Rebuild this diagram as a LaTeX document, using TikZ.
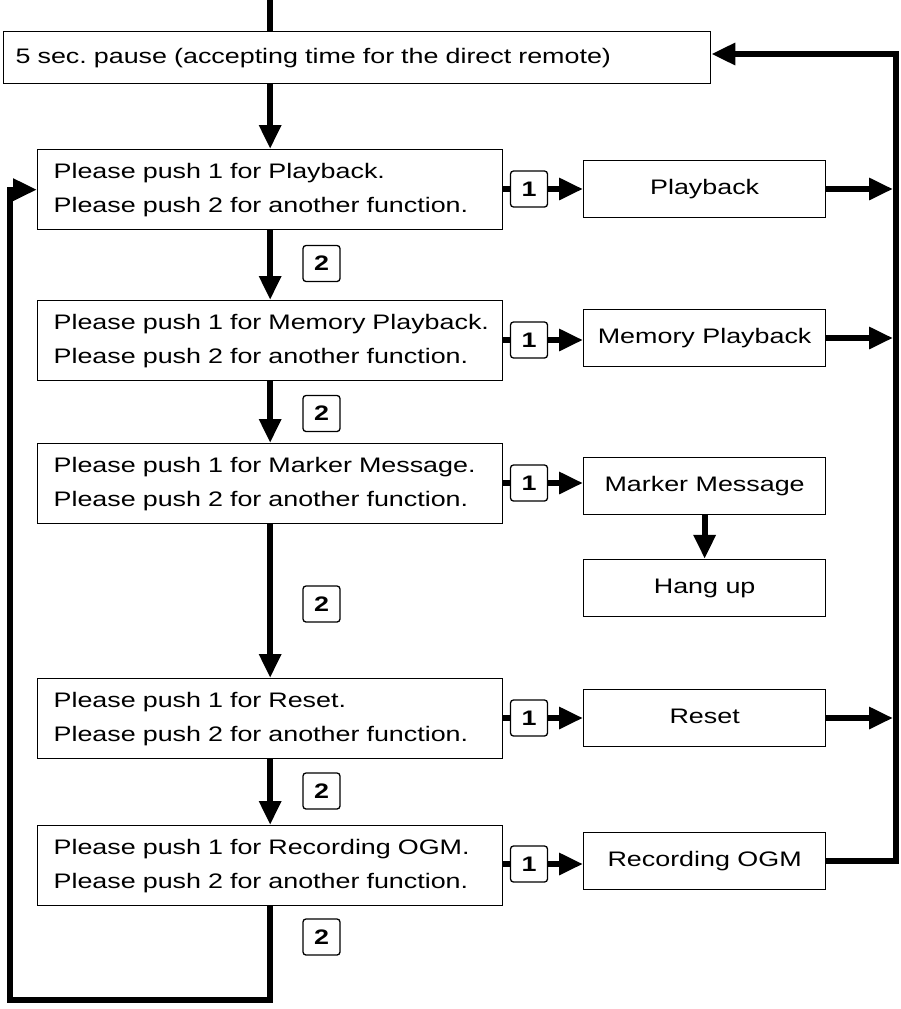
\documentclass[tikz,border=0pt]{standalone}
\usepackage{fontspec}
\setmainfont[FakeStretch=1.28]{Liberation Sans}
\usetikzlibrary{arrows.meta}
\frenchspacing
\begin{document}
\begin{tikzpicture}[x=1pt,y=-1pt,
  prompt/.style={draw, line width=1.3pt, minimum height=80pt, text width=433pt, inner xsep=16pt, inner ysep=0pt, align=left, anchor=north west, font=\fontsize{21}{34}\selectfont},
  result/.style={draw, line width=1.3pt, minimum width=242pt, minimum height=57pt, inner sep=0pt, text height=15pt, text depth=4pt, anchor=west, font=\fontsize{21}{25}\selectfont},
  keybox/.style={draw, line width=1.3pt, rounded corners=3pt, minimum width=37pt, minimum height=36pt, inner sep=0pt, font=\fontsize{21}{25}\selectfont\bfseries},
  flow/.style={line width=6pt},
  arr/.style={flow, -{Triangle[length=24pt,width=21pt]}}
]
\useasboundingbox (0,0) rectangle (900,1009);

% main boxes
\node[prompt, text width=683pt, inner xsep=12pt, minimum height=52pt] (pause) at (3,31) {\mbox{5 sec. pause (accepting time for the direct remote)}};
\node[prompt] (p1) at (37,149) {\mbox{Please push 1 for Playback.}\\\mbox{Please push 2 for another function.}};
\node[prompt] (p2) at (37,300) {\mbox{Please push 1 for Memory Playback.}\\\mbox{Please push 2 for another function.}};
\node[prompt] (p3) at (37,443) {\mbox{Please push 1 for Marker Message.}\\\mbox{Please push 2 for another function.}};
\node[prompt] (p4) at (37,678) {\mbox{Please push 1 for Reset.}\\\mbox{Please push 2 for another function.}};
\node[prompt] (p5) at (37,825) {\mbox{Please push 1 for Recording OGM.}\\\mbox{Please push 2 for another function.}};

% key 1 boxes
\node[keybox] (k1) at (529,189) {1};
\node[keybox] (k2) at (529,340) {1};
\node[keybox] (k3) at (529,483) {1};
\node[keybox] (k4) at (529,718) {1};
\node[keybox] (k5) at (529,864) {1};

% key 2 boxes
\node[keybox] (m1) at (321.5,263.5) {2};
\node[keybox] (m2) at (321.5,413.5) {2};
\node[keybox] (m3) at (321.5,604) {2};
\node[keybox] (m4) at (321.5,791) {2};
\node[keybox] (m5) at (321.5,937) {2};

% result boxes
\node[result] (r1) at (583,189) {Playback};
\node[result] (r2) at (583,338) {Memory Playback};
\node[result] (r3) at (583,486) {Marker Message};
\node[result] (hang) at (583,588) {Hang up};
\node[result] (r4) at (583,718) {Reset};
\node[result] (r5) at (583,861) {Recording OGM};

% coordinates
\coordinate (top) at (269.5,0);
\coordinate (rtop) at (896,54);
\coordinate (rx) at (893,0);
\coordinate (lb) at (10,1000);

% main vertical flow
\draw[flow] (top) -- (top |- pause.north);
\draw[arr] (pause.south -| p1.north) -- (p1.north);
\draw[arr] (p1.south) -- (p2.north);
\draw[arr] (p2.south) -- (p3.north);
\draw[arr] (p3.south) -- (p4.north);
\draw[arr] (p4.south) -- (p5.north);
\draw[arr] (p5.south) |- (lb) |- (p1.west);

% key 1 branches
\draw[flow] (p1.east |- k1.west) -- (k1.west);
\draw[arr] (k1.east) -- (k1.east -| r1.west);
\draw[flow] (p2.east |- k2.west) -- (k2.west);
\draw[arr] (k2.east) -- (k2.east -| r2.west);
\draw[flow] (p3.east |- k3.west) -- (k3.west);
\draw[arr] (k3.east) -- (k3.east -| r3.west);
\draw[flow] (p4.east |- k4.west) -- (k4.west);
\draw[arr] (k4.east) -- (k4.east -| r4.west);
\draw[flow] (p5.east |- k5.west) -- (k5.west);
\draw[arr] (k5.east) -- (k5.east -| r5.west);

% results back to the pause
\draw[arr] (r1.east) -- (r1.east -| rx);
\draw[arr] (r2.east) -- (r2.east -| rx);
\draw[arr] (r4.east) -- (r4.east -| rx);
\draw[arr] (r5.east) -| (rtop) -- (rtop -| pause.east);
\draw[arr] (r3.south) -- (hang.north);
\end{tikzpicture}
\end{document}
